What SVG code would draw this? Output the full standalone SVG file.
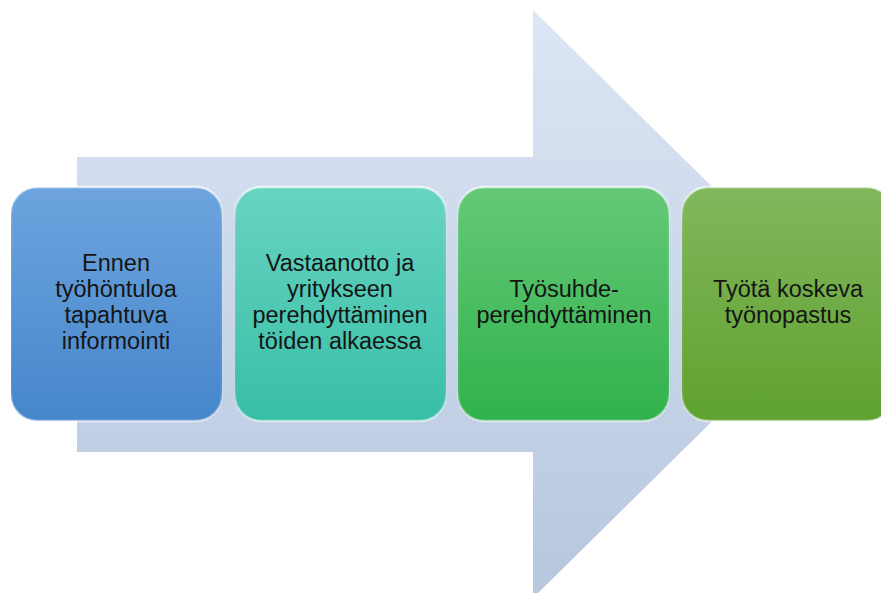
<svg xmlns="http://www.w3.org/2000/svg" width="881" height="593" viewBox="0 0 881 593">
<defs>
<linearGradient id="ga" x1="0" y1="0" x2="0" y2="1">
<stop offset="0" stop-color="#dce6f4"/>
<stop offset="1" stop-color="#b6c7de"/>
</linearGradient>
<linearGradient id="g1" x1="0" y1="0" x2="0" y2="1">
<stop offset="0" stop-color="#6da4de"/>
<stop offset="1" stop-color="#4686cb"/>
</linearGradient>
<linearGradient id="g2" x1="0" y1="0" x2="0" y2="1">
<stop offset="0" stop-color="#68d4c2"/>
<stop offset="1" stop-color="#38bea7"/>
</linearGradient>
<linearGradient id="g3" x1="0" y1="0" x2="0" y2="1">
<stop offset="0" stop-color="#65c878"/>
<stop offset="1" stop-color="#30b24b"/>
</linearGradient>
<linearGradient id="g4" x1="0" y1="0" x2="0" y2="1">
<stop offset="0" stop-color="#82b75c"/>
<stop offset="1" stop-color="#5fa22f"/>
</linearGradient>
<linearGradient id="hl" x1="0" y1="0" x2="0" y2="1">
<stop offset="0" stop-color="#ffffff" stop-opacity="0.7"/>
<stop offset="0.15" stop-color="#ffffff" stop-opacity="0.1"/>
<stop offset="0.85" stop-color="#ffffff" stop-opacity="0.05"/>
<stop offset="1" stop-color="#ffffff" stop-opacity="0.55"/>
</linearGradient>
</defs>
<style>
.box { stroke: url(#hl); stroke-width: 2.5; }
.t { font-family: "Liberation Sans", Arial, sans-serif; font-size: 23.5px; fill: #151515; text-anchor: middle; }
</style>
<g id="arrow">
<polygon points="77,157 533,157 533,10 831,304 533,598 533,452 77,452" fill="url(#ga)"/>
</g>
<g id="connectors"></g>
<g id="node1">
<rect class="box" x="11" y="187" width="211" height="234" rx="26" fill="url(#g1)"/>
<text class="t" x="116" y="271">Ennen</text>
<text class="t" x="116" y="297">työhöntuloa</text>
<text class="t" x="116" y="323">tapahtuva</text>
<text class="t" x="116" y="349">informointi</text>
</g>
<g id="node2">
<rect class="box" x="235" y="187" width="211" height="234" rx="26" fill="url(#g2)"/>
<text class="t" x="340" y="271">Vastaanotto ja</text>
<text class="t" x="340" y="297">yritykseen</text>
<text class="t" x="340" y="323">perehdyttäminen</text>
<text class="t" x="340" y="349">töiden alkaessa</text>
</g>
<g id="node3">
<rect class="box" x="458" y="187" width="211" height="234" rx="26" fill="url(#g3)"/>
<text class="t" x="564" y="297">Työsuhde-</text>
<text class="t" x="564" y="323">perehdyttäminen</text>
</g>
<g id="node4">
<rect class="box" x="682" y="187" width="211" height="234" rx="26" fill="url(#g4)"/>
<text class="t" x="788" y="297">Työtä koskeva</text>
<text class="t" x="788" y="323">työnopastus</text>
</g>
</svg>
